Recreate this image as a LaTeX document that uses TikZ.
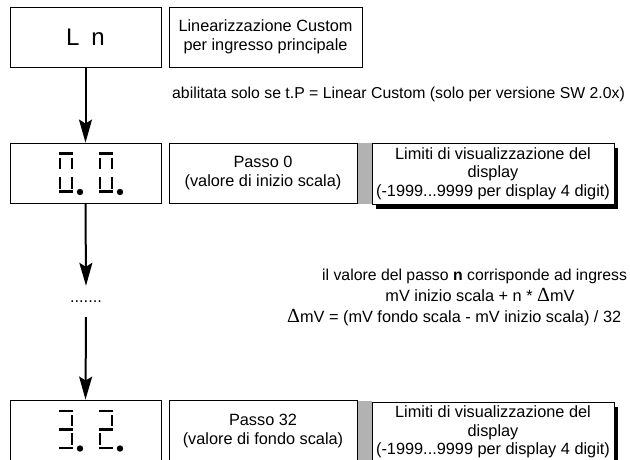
\documentclass[tikz,border=0pt]{standalone}
\usepackage{fontspec}
\setmainfont{Liberation Sans}
\newfontfamily\symfont{Liberation Serif}
\usetikzlibrary{arrows.meta,shadows}
\begin{document}
\begin{tikzpicture}[x=1pt,y=-1pt,
  txt/.style={inner sep=0pt,font=\fontsize{16.3}{18.7}\selectfont},
  box/.style={draw=black,line width=0.9pt,fill=white,inner sep=0pt,align=center,font=\fontsize{16.3}{18.7}\selectfont},
  shadowbox/.style={box,drop shadow={shadow xshift=4pt,shadow yshift=-5pt,fill=black,opacity=1}},
  strip/.style={fill=black!30},
  arr/.style={line width=2pt,-{Stealth[length=23pt,width=13pt,inset=4pt]}},
  seg/.style={line width=2.6pt},
  dotmark/.style={fill=black}
]
\useasboundingbox (0,0) rectangle (630,459);
\newcommand{\dlt}{{\symfont\fontsize{20}{20}\selectfont Δ}}

% top row
\node[box,minimum width=151,minimum height=60,font=\fontsize{24}{26}\selectfont] (ln) at (85.5,37) {L\hspace{12pt}n};
\node[box,minimum width=193,minimum height=60] (li) at (265.5,37) {Linearizzazione Custom\\per ingresso principale};
\node[txt,anchor=base west,font=\fontsize{15.8}{18.7}\selectfont] (abil) at (172,98) {abilitata solo se t.P = Linear Custom (solo per versione SW 2.0x)};

% second row
\fill[strip] (357,143) rectangle (372,203.5);
\node[box,minimum width=151,minimum height=60] (d0) at (85.5,173) {};
\node[box,minimum width=188,minimum height=60] (p0) at (263,173) {Passo 0\\(valore di inizio scala)};
\node[shadowbox,minimum width=242,minimum height=61] (lim0) at (493,173.5) {Limiti di visualizzazione del\\display\\(-1999...9999 per display 4 digit)};

% digits 0 0
\begin{scope}[shift={(59,153.5)}]
  \draw[seg] (0,0)--(14,0) (1,4)--(1,15.5) (13,4)--(13,15.5) (1,23)--(1,35) (13,23)--(13,35) (0,38)--(14,38);
  \fill[dotmark] (21,38.5) circle (3.2);
\end{scope}
\begin{scope}[shift={(99,153.5)}]
  \draw[seg] (0,0)--(14,0) (1,4)--(1,15.5) (13,4)--(13,15.5) (1,23)--(1,35) (13,23)--(13,35) (0,38)--(14,38);
  \fill[dotmark] (21,38.5) circle (3.2);
\end{scope}

% dots
\node[txt,minimum height=31] (dots) at (86,301.5) {.......};

% right texts
\node[txt,anchor=base west,font=\fontsize{15.8}{18.7}\selectfont] (n1) at (322,280) {il valore del passo \textbf{n} corrisponde ad ingress};
\node[txt,anchor=base] (n2) at (480,301) {mV inizio scala + n * \dlt mV};
\node[txt,anchor=base west] (n3) at (287,322) {\dlt mV = (mV fondo scala - mV inizio scala) / 32};

% bottom row
\fill[strip] (357,401) rectangle (372,470);
\node[box,minimum width=151,minimum height=62] (d32) at (85.5,431) {};
\node[box,minimum width=188,minimum height=62] (p32) at (263,431) {Passo 32\\(valore di fondo scala)};
\node[shadowbox,minimum width=242,minimum height=60] (lim32) at (493,432) {Limiti di visualizzazione del\\display\\(-1999...9999 per display 4 digit)};

% digits 3 2
\begin{scope}[shift={(59,411)}]
  \draw[seg] (0,0)--(14,0) (13,4)--(13,15) (0,18.5)--(14,18.5) (13,22)--(13,34) (0,37)--(14,37);
  \fill[dotmark] (21,37.5) circle (3.2);
\end{scope}
\begin{scope}[shift={(99,411)}]
  \draw[seg] (0,0)--(14,0) (13,4)--(13,15) (0,18.5)--(14,18.5) (1,22)--(1,34) (0,37)--(14,37);
  \fill[dotmark] (21,37.5) circle (3.2);
\end{scope}

% arrows
\draw[arr] (ln.south) -- (d0.north);
\draw[arr] (d0.south) -- (dots.north);
\draw[arr] (dots.south) -- (d32.north);
\end{tikzpicture}
\end{document}
